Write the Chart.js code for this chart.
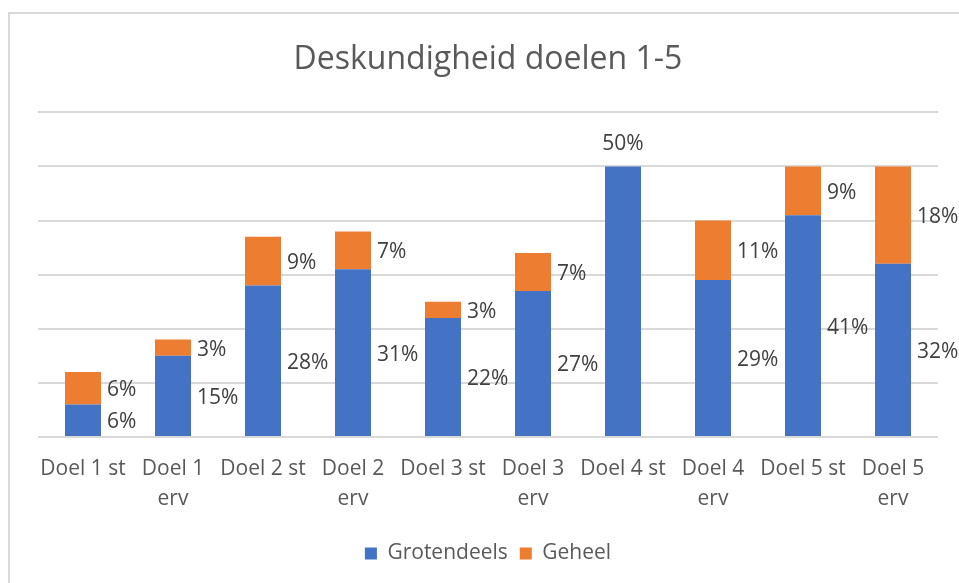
<!DOCTYPE html>
<html>
<head>
<meta charset="utf-8">
<script src="https://cdn.jsdelivr.net/npm/chart.js@4.4.1/dist/chart.umd.min.js"></script>
<style>
    html, body { margin: 0; padding: 0; background: #fff; overflow: hidden; }
    #wrap { position: relative; width: 959px; height: 583px; }
    #frame { position: absolute; left: 8px; top: 12px; width: 980px; height: 600px; border: 2px solid #d9d9d9; box-sizing: border-box; }
    #chart-box { position: absolute; left: 0; top: 0; width: 959px; height: 583px; }
</style>
</head>
<body>
<div id="wrap">
    <div id="frame"></div>
    <div id="chart-box"><canvas id="graph-container"></canvas></div>
</div>
<script>
// Categories (multi-line labels where Excel wrapped them)
var categories = [
    'Doel 1 st', ['Doel 1', 'erv'],
    'Doel 2 st', ['Doel 2', 'erv'],
    'Doel 3 st', ['Doel 3', 'erv'],
    'Doel 4 st', ['Doel 4', 'erv'],
    'Doel 5 st', ['Doel 5', 'erv']
];
// Percentages per series
var grotendeels = [6, 15, 28, 31, 22, 27, 50, 29, 41, 32];
var geheel = [6, 3, 9, 7, 3, 7, 0, 11, 9, 18];
// Value axis: 0..60 in steps of 10 (no tick text shown)
var yMin = 0;
var yMax = 60;
var yStep = 10;

var textColor = '#595959';
var fontFamily = '"Open Sans", "Noto Sans", sans-serif';

// Draw the percentage labels to the right of each bar segment
var segmentLabels = {
    id: 'segmentLabels',
    afterDatasetsDraw: function (chart) {
        var ctx = chart.ctx;
        ctx.save();
        ctx.font = '21px ' + fontFamily;
        ctx.fillStyle = '#404040';
        ctx.textBaseline = 'middle';
        chart.data.datasets.forEach(function (ds, di) {
            var meta = chart.getDatasetMeta(di);
            meta.data.forEach(function (bar, i) {
                var value = ds.data[i];
                if (!value) return;
                var p = bar.getProps(['x', 'y', 'base', 'width'], true);
                if (di === 0 && geheel[i] === 0) {
                    // nothing stacked on top: label sits above the bar
                    ctx.textAlign = 'center';
                    ctx.fillText(value + '%', p.x, p.y - 22);
                } else {
                    ctx.textAlign = 'left';
                    ctx.fillText(value + '%', p.x + p.width / 2 + 6, (p.y + p.base) / 2 + 2);
                }
            });
        });
        ctx.restore();
    }
};

var ctx = document.getElementById('graph-container').getContext('2d');
window.myChart = new Chart(ctx, {
    type: 'bar',
    data: {
        labels: categories,
        datasets: [{
            label: 'Grotendeels',
            data: grotendeels,
            backgroundColor: '#4472C4',
            categoryPercentage: 1,
            barPercentage: 0.4
        }, {
            label: 'Geheel',
            data: geheel,
            backgroundColor: '#ED7D31',
            categoryPercentage: 1,
            barPercentage: 0.4
        }]
    },
    options: {
        responsive: true,
        maintainAspectRatio: false,
        animation: false,
        layout: {
            padding: { left: 38, right: 21, top: 18, bottom: 9 }
        },
        plugins: {
            title: {
                display: true,
                text: 'Deskundigheid doelen 1-5',
                color: textColor,
                font: { family: fontFamily, size: 32, weight: 'normal' },
                padding: { top: 23, bottom: 33 }
            },
            legend: {
                position: 'bottom',
                labels: {
                    color: textColor,
                    font: { family: fontFamily, size: 21 },
                    boxWidth: 12,
                    boxHeight: 12,
                    padding: 12
                }
            },
            tooltip: { enabled: false }
        },
        scales: {
            x: {
                stacked: true,
                grid: { display: false, drawTicks: false },
                border: { display: false },
                ticks: {
                    color: textColor,
                    font: { family: fontFamily, size: 21, lineHeight: 1.43 },
                    padding: 17,
                    maxRotation: 0,
                    autoSkip: false
                }
            },
            y: {
                stacked: true,
                min: yMin,
                max: yMax,
                grid: { color: '#d9d9d9', lineWidth: 2, drawTicks: false },
                border: { display: false },
                ticks: { display: false, stepSize: yStep }
            }
        }
    },
    plugins: [segmentLabels]
});
</script>
</body>
</html>
